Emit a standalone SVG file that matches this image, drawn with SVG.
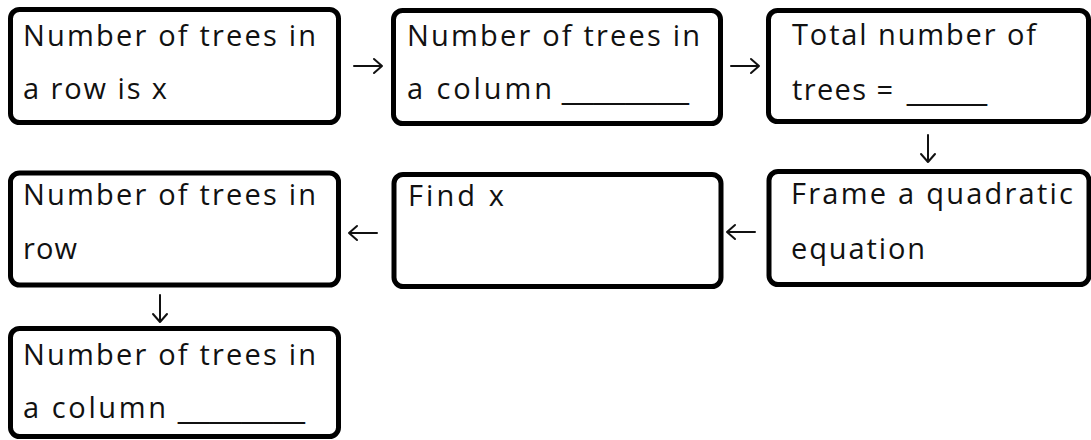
<svg xmlns="http://www.w3.org/2000/svg" width="1091" height="440" viewBox="0 0 1091 440">
<style>
.box{fill:#fff;stroke:#000;stroke-width:5}
.t{font-family:"Open Sans","Liberation Sans",Arial,sans-serif;font-size:29px;fill:#111}
.u{font-family:"Liberation Sans",Arial,sans-serif;font-size:29px;fill:#111}
.c{fill:none;stroke:#111;stroke-width:2;stroke-linecap:round;stroke-linejoin:round}
</style>
<rect width="1091" height="440" fill="#fff"/>
<g id="n1"><rect class="box" x="10.5" y="9.5" width="328" height="113" rx="9"/>
<text class="t" x="23" y="46" textLength="293" lengthAdjust="spacing">Number of trees in</text>
<text class="t" x="23" y="99" textLength="144" lengthAdjust="spacing">a row is x</text></g>
<g id="n2"><rect class="box" x="393.5" y="10.5" width="327" height="113" rx="9"/>
<text class="t" x="407" y="46" textLength="293" lengthAdjust="spacing">Number of trees in</text>
<text class="t" x="407" y="99" textLength="145" lengthAdjust="spacing">a column</text>
<text class="u" x="562" y="99" textLength="127" lengthAdjust="spacingAndGlyphs">________</text></g>
<g id="n3"><rect class="box" x="768.5" y="10.5" width="320" height="111" rx="9"/>
<text class="t" x="792" y="45" textLength="244" lengthAdjust="spacing">Total number of</text>
<text class="t" x="792" y="100" textLength="101" lengthAdjust="spacing">trees =</text>
<text class="u" x="907" y="100" textLength="80" lengthAdjust="spacingAndGlyphs">_____</text></g>
<g id="n4"><rect class="box" x="10.5" y="173" width="328" height="112" rx="9"/>
<text class="t" x="23" y="205" textLength="293" lengthAdjust="spacing">Number of trees in</text>
<text class="t" x="23" y="259" textLength="54" lengthAdjust="spacing">row</text></g>
<g id="n5"><rect class="box" x="394" y="174.5" width="327" height="112" rx="9"/>
<text class="t" x="408" y="206" textLength="96" lengthAdjust="spacing">Find x</text></g>
<g id="n6"><rect class="box" x="769" y="171.5" width="320" height="113" rx="9"/>
<text class="t" x="791" y="204" textLength="282" lengthAdjust="spacing">Frame a quadratic</text>
<text class="t" x="791" y="259" textLength="134" lengthAdjust="spacing">equation</text></g>
<g id="n7"><rect class="box" x="10.5" y="328.5" width="328" height="108" rx="9"/>
<text class="t" x="23" y="365" textLength="293" lengthAdjust="spacing">Number of trees in</text>
<text class="t" x="23" y="418" textLength="143" lengthAdjust="spacing">a column</text>
<text class="u" x="178" y="418" textLength="127" lengthAdjust="spacingAndGlyphs">________</text></g>
<g id="connectors">
<path class="c" d="M354,66 H382 M374,59 L382,66 L374,73"/>
<path class="c" d="M731,66 H759 M751,59 L759,66 L751,73"/>
<path class="c" d="M928,135 V162 M921,154 L928,162 L935,154"/>
<path class="c" d="M755,232 H727 M735,225 L727,232 L735,239"/>
<path class="c" d="M377,233 H349 M357,226 L349,233 L357,240"/>
<path class="c" d="M160,295 V322 M153,314 L160,322 L167,314"/>
</g>
</svg>
